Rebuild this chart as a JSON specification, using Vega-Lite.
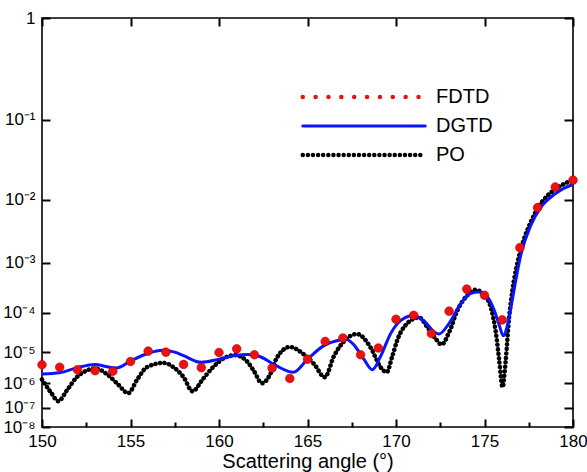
{
  "$schema": "https://vega.github.io/schema/vega-lite/v6.json",
  "width": 531,
  "height": 409,
  "autosize": {"type": "none"},
  "padding": {"left": 42, "top": 18, "right": 14, "bottom": 45},
  "background": "white",
  "config": {
    "view": {"stroke": "black", "strokeWidth": 1.6},
    "font": "Liberation Sans"
  },
  "datasets": {
    "po": [
      {"angle": 150.0, "value": 1.36e-6}, {"angle": 150.5, "value": 4.5e-7}, {"angle": 150.92, "value": 1.95e-7},
      {"angle": 151.4, "value": 5.3e-7}, {"angle": 151.96, "value": 1.63e-6}, {"angle": 152.5, "value": 2.7e-6},
      {"angle": 153.0, "value": 3.2e-6}, {"angle": 153.66, "value": 2.1e-6}, {"angle": 154.23, "value": 1.0e-6},
      {"angle": 154.88, "value": 4.2e-7}, {"angle": 155.35, "value": 1.26e-6}, {"angle": 155.92, "value": 3.5e-6},
      {"angle": 156.87, "value": 4.8e-6}, {"angle": 157.43, "value": 3.5e-6}, {"angle": 158.0, "value": 1.63e-6},
      {"angle": 158.5, "value": 5.0e-7}, {"angle": 159.1, "value": 1.43e-6}, {"angle": 159.66, "value": 3.5e-6},
      {"angle": 160.4, "value": 7.2e-6}, {"angle": 160.9, "value": 8.2e-6}, {"angle": 161.6, "value": 5.2e-6},
      {"angle": 161.96, "value": 2.7e-6}, {"angle": 162.43, "value": 1.0e-6}, {"angle": 162.9, "value": 2.1e-6},
      {"angle": 163.26, "value": 6.7e-6}, {"angle": 164.0, "value": 1.4e-5}, {"angle": 164.8, "value": 8.6e-6},
      {"angle": 165.36, "value": 4.5e-6}, {"angle": 165.98, "value": 1.63e-6}, {"angle": 166.49, "value": 7.6e-6},
      {"angle": 167.06, "value": 2.0e-5}, {"angle": 167.8, "value": 3.1e-5}, {"angle": 168.57, "value": 1.34e-5},
      {"angle": 169.13, "value": 3.5e-6}, {"angle": 169.47, "value": 2.4e-6}, {"angle": 169.79, "value": 7.6e-6},
      {"angle": 170.08, "value": 2.2e-5}, {"angle": 170.55, "value": 5.2e-5}, {"angle": 171.3, "value": 7.8e-5},
      {"angle": 171.77, "value": 4.6e-5}, {"angle": 172.25, "value": 2.3e-5}, {"angle": 172.57, "value": 1.64e-5},
      {"angle": 173.0, "value": 3.4e-5}, {"angle": 173.47, "value": 1.14e-4}, {"angle": 174.04, "value": 2.4e-4},
      {"angle": 174.5, "value": 3.1e-4}, {"angle": 174.97, "value": 2.4e-4}, {"angle": 175.35, "value": 1.35e-4},
      {"angle": 175.64, "value": 3.4e-5}, {"angle": 175.83, "value": 5.8e-6}, {"angle": 176.02, "value": 7.2e-7},
      {"angle": 176.2, "value": 5.8e-6}, {"angle": 176.39, "value": 7.8e-5}, {"angle": 176.58, "value": 3.1e-4},
      {"angle": 176.86, "value": 1.0e-3}, {"angle": 177.24, "value": 2.6e-3}, {"angle": 177.6, "value": 4.6e-3},
      {"angle": 178.0, "value": 7.5e-3}, {"angle": 178.5, "value": 1.1e-2}, {"angle": 179.0, "value": 1.4e-2},
      {"angle": 179.5, "value": 1.65e-2}, {"angle": 180.0, "value": 1.85e-2}
    ],
    "dgtd": [
      {"angle": 150.0, "value": 2.1e-6}, {"angle": 151.0, "value": 2.3e-6}, {"angle": 152.0, "value": 3.4e-6},
      {"angle": 153.0, "value": 4.3e-6}, {"angle": 153.7, "value": 3.6e-6}, {"angle": 154.2, "value": 3.3e-6},
      {"angle": 155.0, "value": 5.5e-6}, {"angle": 156.0, "value": 9.3e-6}, {"angle": 156.8, "value": 1.13e-5},
      {"angle": 157.5, "value": 1.0e-5}, {"angle": 158.0, "value": 7.9e-6}, {"angle": 159.0, "value": 5.0e-6},
      {"angle": 160.0, "value": 6.2e-6}, {"angle": 161.0, "value": 8.2e-6}, {"angle": 161.6, "value": 8.6e-6},
      {"angle": 162.3, "value": 7.5e-6}, {"angle": 163.2, "value": 4.0e-6}, {"angle": 164.2, "value": 2.4e-6},
      {"angle": 165.0, "value": 6.2e-6}, {"angle": 165.9, "value": 1.5e-5}, {"angle": 166.9, "value": 2.2e-5},
      {"angle": 167.15, "value": 2.3e-5}, {"angle": 167.6, "value": 1.65e-5}, {"angle": 168.2, "value": 6.0e-6},
      {"angle": 168.66, "value": 2.9e-6}, {"angle": 169.13, "value": 7.6e-6}, {"angle": 169.7, "value": 3.2e-5},
      {"angle": 170.26, "value": 6.6e-5}, {"angle": 171.0, "value": 8.7e-5}, {"angle": 171.6, "value": 6.4e-5},
      {"angle": 172.2, "value": 3.4e-5}, {"angle": 172.43, "value": 3.1e-5}, {"angle": 173.0, "value": 5.7e-5},
      {"angle": 173.66, "value": 1.6e-4}, {"angle": 174.2, "value": 2.6e-4}, {"angle": 174.7, "value": 2.8e-4},
      {"angle": 175.17, "value": 2.2e-4}, {"angle": 175.55, "value": 1.14e-4}, {"angle": 175.83, "value": 5.2e-5},
      {"angle": 176.06, "value": 2.8e-5}, {"angle": 176.3, "value": 5.2e-5}, {"angle": 176.58, "value": 2.0e-4},
      {"angle": 176.86, "value": 7.0e-4}, {"angle": 177.07, "value": 1.45e-3}, {"angle": 177.6, "value": 4.1e-3},
      {"angle": 178.2, "value": 7.9e-3}, {"angle": 178.93, "value": 1.18e-2}, {"angle": 179.5, "value": 1.45e-2},
      {"angle": 180.0, "value": 1.62e-2}
    ],
    "fdtd": [
      {"angle": 150, "value": 4.2e-6}, {"angle": 151, "value": 3.5e-6}, {"angle": 152, "value": 2.9e-6},
      {"angle": 153, "value": 2.7e-6}, {"angle": 154, "value": 2.6e-6}, {"angle": 155, "value": 5.3e-6},
      {"angle": 156, "value": 1.07e-5}, {"angle": 157, "value": 1.0e-5}, {"angle": 158, "value": 4.3e-6},
      {"angle": 159, "value": 3.4e-6}, {"angle": 160, "value": 9.8e-6}, {"angle": 161, "value": 1.24e-5},
      {"angle": 162, "value": 8.4e-6}, {"angle": 163, "value": 3.3e-6}, {"angle": 164, "value": 1.47e-6},
      {"angle": 165, "value": 6.2e-6}, {"angle": 166, "value": 1.98e-5}, {"angle": 167, "value": 2.45e-5},
      {"angle": 168, "value": 8.4e-6}, {"angle": 169, "value": 1.31e-5}, {"angle": 170, "value": 7.1e-5},
      {"angle": 171, "value": 8.8e-5}, {"angle": 172, "value": 3.2e-5}, {"angle": 173, "value": 1.09e-4},
      {"angle": 174, "value": 3.2e-4}, {"angle": 175, "value": 2.4e-4}, {"angle": 176, "value": 6.9e-5},
      {"angle": 177, "value": 1.84e-3}, {"angle": 178, "value": 7.7e-3}, {"angle": 179, "value": 1.5e-2},
      {"angle": 180, "value": 1.85e-2}
    ]
  },
  "layer": [
    {
      "data": {"name": "po"},
      "mark": {"type": "line", "interpolate": "monotone", "strokeDash": [0.01, 4.5], "strokeCap": "round", "strokeWidth": 4.6},
      "encoding": {
        "x": {"field": "angle", "type": "quantitative",
          "scale": {"domain": [150, 180], "nice": false, "zero": false},
          "axis": {"orient": "bottom", "offset": -8, "tickSize": 8, "tickColor": "#000000", "tickWidth": 2, "zindex": 1,
            "domain": false, "grid": false,
            "values": [150, 155, 160, 165, 170, 175, 180], "format": "d",
            "labelPadding": 6, "labelFontSize": 17, "labelColor": "black", "labelFont": "Liberation Sans", "labelFlush": false,
            "title": "Scattering angle (°)", "titleFontSize": 20, "titlePadding": 2, "titleColor": "black",
            "titleFont": "Liberation Sans", "titleFontWeight": "normal"}},
        "y": {"field": "value", "type": "quantitative",
          "scale": {"type": "pow", "exponent": 0.103, "domain": [1e-8, 1], "nice": false, "zero": false},
          "axis": {"orient": "left", "offset": -8, "tickSize": 8, "tickColor": "#000000", "tickWidth": 2, "zindex": 1,
            "domain": false, "grid": false,
            "values": [1, 0.1, 0.01, 0.001, 0.0001, 0.00001, 0.000001, 0.0000001, 0.00000001],
            "labelExpr": "datum.value > 0.5 ? '1' : '10' + ['', '⁻¹', '⁻²', '⁻³', '⁻⁴', '⁻⁵', '⁻⁶', '⁻⁷', '⁻⁸'][round(-log(datum.value) / LN10)]",
            "labelPadding": 7, "labelFontSize": 17, "labelColor": "black", "labelFont": "Liberation Sans", "labelFlush": false, "title": null}},
        "color": {"datum": "PO", "type": "nominal",
          "scale": {"domain": ["FDTD", "DGTD", "PO"], "range": ["#ee1010", "#0a14ff", "#000000"]},
          "legend": {
            "orient": "none", "legendX": 257, "legendY": 69, "title": null,
            "symbolType": "M-10,0H10", "symbolSize": 150, "symbolStrokeWidth": 3,
            "symbolOffset": 55, "labelOffset": 62, "rowPadding": 9,
            "labelFont": "Liberation Sans", "labelFontSize": 20, "labelColor": "black",
            "encode": {"symbols": {"update": {
              "strokeDash": {"signal": "datum.value === 'FDTD' ? [0.01, 12.85] : datum.value === 'PO' ? [0.01, 5.1] : [1, 0]"},
              "strokeCap": {"value": "round"},
              "strokeWidth": {"signal": "datum.value === 'DGTD' ? 3 : 4.5"},
              "fill": {"value": "transparent"}
            }}}
          }}
      }
    },
    {
      "data": {"name": "dgtd"},
      "mark": {"type": "line", "interpolate": "monotone", "strokeWidth": 3},
      "encoding": {
        "x": {"field": "angle", "type": "quantitative",
          "axis": {"orient": "top", "offset": -8, "tickSize": 8, "tickColor": "#000000", "tickWidth": 2, "zindex": 1,
            "domain": false, "grid": false,
            "values": [150, 155, 160, 165, 170, 175, 180], "labels": false, "title": null}},
        "y": {"field": "value", "type": "quantitative",
          "axis": {"orient": "right", "offset": -9, "tickSize": 9, "tickColor": "#000000", "tickWidth": 2, "zindex": 1,
            "domain": false, "grid": false,
            "values": [1, 0.1, 0.01, 0.001, 0.0001, 0.00001, 0.000001, 0.0000001, 0.00000001],
            "labels": false, "title": null}},
        "color": {"datum": "DGTD", "type": "nominal"}
      }
    },
    {
      "data": {"name": "fdtd"},
      "mark": {"type": "point", "filled": true, "size": 75, "opacity": 1, "stroke": "#b00000", "strokeWidth": 0.6},
      "encoding": {
        "x": {"field": "angle", "type": "quantitative",
          "axis": {"orient": "bottom", "offset": -5, "tickSize": 5, "tickColor": "#000000", "tickWidth": 2, "zindex": 1,
            "domain": false, "grid": false,
            "values": [152.5, 157.5, 162.5, 167.5, 172.5, 177.5], "labels": false, "title": null}},
        "y": {"field": "value", "type": "quantitative", "axis": null},
        "color": {"datum": "FDTD", "type": "nominal"}
      }
    }
  ],
  "resolve": {"axis": {"x": "independent", "y": "independent"}}
}
